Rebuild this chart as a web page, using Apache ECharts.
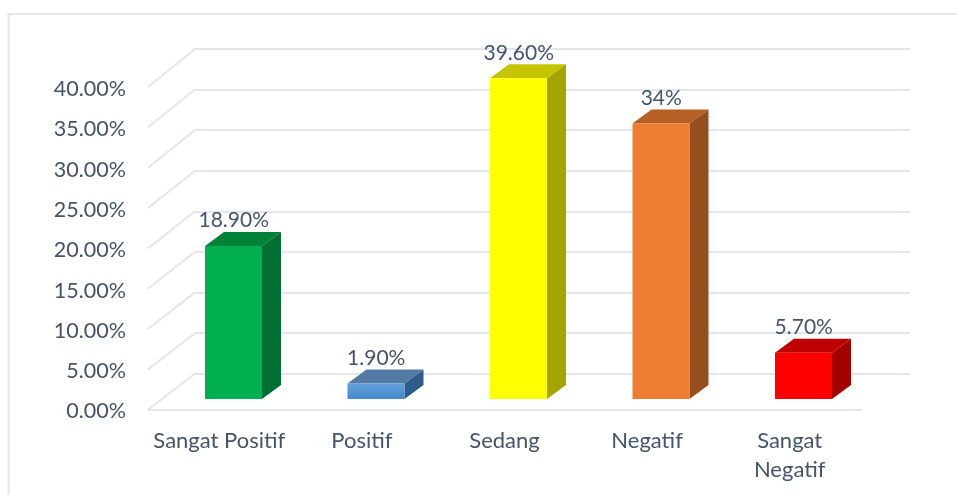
<!DOCTYPE html>
<html>
<head>
<meta charset="utf-8">
<style>
  html, body { margin: 0; padding: 0; background: #fff; }
  #chart { width: 957px; height: 495px; }
</style>
<script src="https://cdn.jsdelivr.net/npm/echarts@6/dist/echarts.min.js"></script>
</head>
<body>
<div id="chart"></div>
<script>
const categories = ['Sangat Positif', 'Positif', 'Sedang', 'Negatif', 'Sangat\nNegatif'];
const values = [18.9, 1.9, 39.6, 34, 5.7];
const valueLabels = ['18.90%', '1.90%', '39.60%', '34%', '5.70%'];
const yTicks = [0, 5, 10, 15, 20, 25, 30, 35, 40];

const frontColors = ['#00b050', ['#639fdc', '#4488cb'], '#ffff00', '#ed7d31', '#ff0000'];
const topColors = ['#008239', '#5379a5', '#c4c400', '#b55f25', '#bf0000'];
const sideColors = ['#006f32', '#2f5b8a', '#a5a500', '#954f1e', '#a30000'];

const textColor = '#44546a';
const lineColor = '#e3e6ee';
const fontFamily = 'Lato, "Open Sans", sans-serif';

function frontFill(c) {
  if (!Array.isArray(c)) return c;
  return new echarts.graphic.LinearGradient(0, 0, 0, 1, [
    { offset: 0, color: c[0] },
    { offset: 1, color: c[1] },
  ]);
}

// 3d bar: front face, top and side, the depth is fixed
function renderBar(params, api) {
  const i = api.value(0);
  const top = api.coord([i, api.value(1)]);
  const base = api.coord([i, 0]);
  const barW = 57;
  const dx = 19;
  const dy = -14;
  const l = top[0] - barW / 2 - 0.25;
  const r = l + barW;
  return {
    type: 'group',
    children: [
      {
        type: 'polygon',
        shape: { points: [[r, top[1]], [r + dx, top[1] + dy], [r + dx, base[1] + dy], [r, base[1]]] },
        style: { fill: sideColors[i] },
      },
      {
        type: 'polygon',
        shape: { points: [[l, top[1]], [l + dx, top[1] + dy], [r + dx, top[1] + dy], [r, top[1]]] },
        style: { fill: topColors[i] },
      },
      {
        type: 'rect',
        shape: { x: l, y: top[1], width: barW, height: base[1] - top[1] },
        style: { fill: frontFill(frontColors[i]) },
      },
      {
        type: 'text',
        x: top[0],
        y: top[1] - 25.5,
        style: {
          text: valueLabels[i],
          fill: textColor,
          font: '21px ' + fontFamily,
          align: 'center',
          verticalAlign: 'middle',
        },
      },
    ],
  };
}

// the slanted lines of the left wall, from the back plane to the axis
function renderWallLine(params, api) {
  const p = api.coord([0, api.value(0)]);
  const x = params.coordSys.x;
  const drop = 36.2 + api.value(0) * 0.045;
  return {
    type: 'line',
    shape: { x1: x, y1: p[1], x2: x - 47, y2: p[1] + drop },
    style: { stroke: lineColor, lineWidth: 2 },
  };
}

const chart = echarts.init(document.getElementById('chart'));
chart.setOption({
  animation: false,
  backgroundColor: '#fff',
  graphic: [
    {
      type: 'polyline',
      silent: true,
      shape: { points: [[8.5, 495], [8.5, 14], [957, 14]] },
      style: { stroke: lineColor, lineWidth: 2, fill: 'none' },
    },
  ],
  grid: [
    { left: 148, width: 713, top: 87, height: 322.5 }, // front, with the axes
    { left: 195, width: 715, top: 49, height: 324.5 }, // back wall
    { left: 162.5, width: 712.5, top: 75, height: 324 }, // bars
  ],
  xAxis: [
    {
      gridIndex: 0,
      type: 'category',
      data: categories,
      axisTick: { show: false },
      axisLine: { lineStyle: { color: lineColor, width: 2 } },
      axisLabel: {
        color: textColor,
        fontFamily,
        fontSize: 22,
        lineHeight: 29,
        margin: 17,
        interval: 0,
      },
    },
    { gridIndex: 1, type: 'category', data: categories, show: false },
    { gridIndex: 2, type: 'category', data: categories, show: false },
  ],
  yAxis: [
    {
      gridIndex: 0,
      type: 'value',
      min: 0,
      max: 40,
      interval: 5,
      axisLine: { show: false },
      axisTick: { show: false },
      splitLine: { show: false },
      axisLabel: {
        margin: 22,
        formatter: (v) => '{a|' + v.toFixed(2) + '%}',
        rich: {
          a: {
            color: textColor,
            fontFamily,
            fontSize: 21.5,
            padding: [4, 0, 0, 0],
          },
        },
      },
    },
    {
      gridIndex: 1,
      type: 'value',
      min: 0,
      max: 40,
      interval: 5,
      axisLine: { show: false },
      axisTick: { show: false },
      axisLabel: { show: false },
      splitLine: { lineStyle: { color: lineColor, width: 2 } },
    },
    {
      gridIndex: 2,
      type: 'value',
      min: 0,
      max: 40,
      interval: 5,
      axisLine: { show: false },
      axisTick: { show: false },
      axisLabel: { show: false },
      splitLine: { show: false },
    },
  ],
  series: [
    {
      type: 'custom',
      xAxisIndex: 1,
      yAxisIndex: 1,
      silent: true,
      z: 1,
      renderItem: renderWallLine,
      encode: { y: 0 },
      data: yTicks.map((v) => [v]),
    },
    {
      type: 'custom',
      xAxisIndex: 2,
      yAxisIndex: 2,
      silent: true,
      z: 3,
      renderItem: renderBar,
      encode: { x: 0, y: 1 },
      data: values.map((v, i) => [i, v]),
    },
  ],
});
</script>
</body>
</html>
